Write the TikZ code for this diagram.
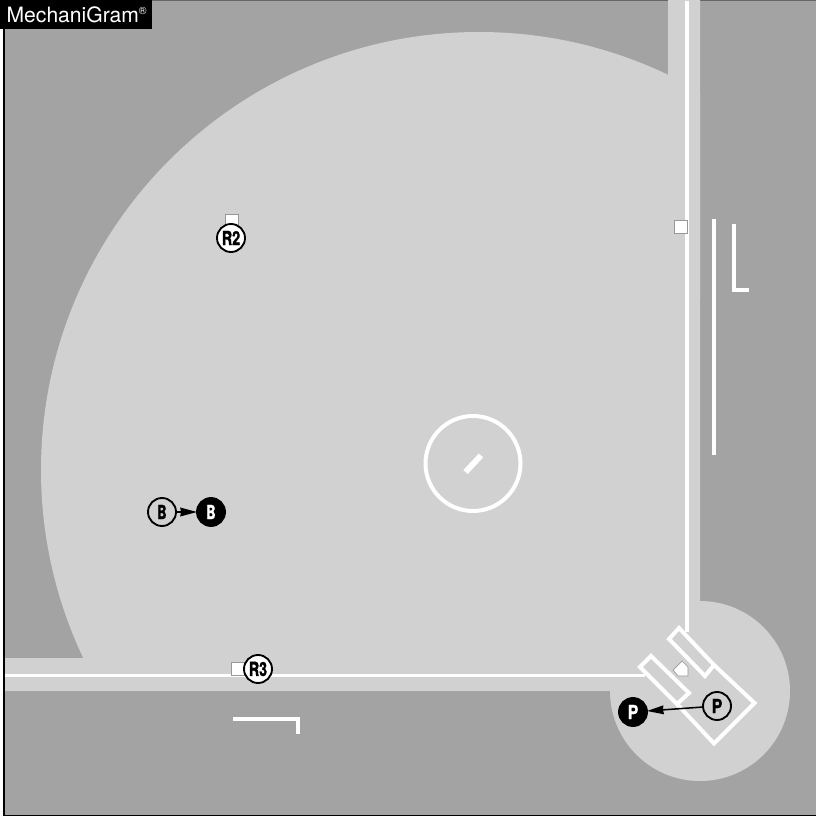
\documentclass[tikz,border=0pt]{standalone}
\usepackage{fontspec}
\setmainfont{TeX Gyre Heros}
\newfontfamily\umpfont[BoldFeatures={FakeBold=1.8}]{TeX Gyre Heros}
\usetikzlibrary{arrows.meta}
\definecolor{turfgray}{HTML}{A3A3A3}
\definecolor{dirtgray}{HTML}{D1D1D1}
\definecolor{basegray}{HTML}{989898}
\tikzset{
    whiteline/.style={draw=white, line width=3.4pt},
    fieldbase/.style={draw=basegray, fill=white, line width=1.5pt, minimum size=0.39cm, inner sep=0pt, outer sep=0pt},
    umpbase/.style={circle, draw=black, line width=1.6pt, minimum size=0.84cm, inner sep=0pt, outer sep=0pt, font=\fontsize{16.5}{16.5}\umpfont\bfseries},
    umpwhite/.style={umpbase, fill=white},
    umpopen/.style={umpbase, fill=dirtgray},
    umpblack/.style={umpbase, fill=black, text=white},
    movearrow/.style={draw=black, line width=1.3pt, -{Stealth[length=0.5cm, width=0.26cm, inset=0.6pt]}}
}
\newcommand{\narrowtxt}[2]{\scalebox{#1}[1]{#2}}
\begin{document}
\begin{tikzpicture}[x=0.03cm, y=-0.03cm]
    \useasboundingbox (0,0) rectangle (816,817);
    % grass and frame
    \fill[white] (0,0) rectangle (816,817);
    \fill[turfgray] (3,0) rectangle (816,815);
    \draw[black, line width=1.4pt] (4,0) -- (4,815.5) -- (816,815.5);
    \draw[black!60, line width=0.8pt] (4,0.5) -- (816,0.5);
    % dirt
    \begin{scope}
        \clip (5,1) rectangle (700,690.5);
        \fill[dirtgray] (479,470) circle (438);
        \fill[dirtgray] (668,-10) rectangle (710,300);
        \fill[dirtgray] (-10,658) rectangle (300,700);
    \end{scope}
    \fill[dirtgray] (700,691) circle (90);
    % foul lines
    \draw[whiteline] (687,1) -- (687,632);
    \draw[whiteline] (5,675.5) -- (645,675.5);
    % mound
    \draw[whiteline] (473,463.5) circle (47.5);
    \draw[white, line width=5pt] (465.5,472) -- (481,455.5);
    % coach boxes
    \draw[white, line width=2.6pt] (714,219) -- (714,455);
    \draw[white, line width=2.6pt] (734,224) -- (734,290) -- (749,290);
    \draw[white, line width=2.6pt] (233,719) -- (298,719) -- (298,734);
    % batter boxes
    \draw[whiteline] (679,628) -- (714,665) -- (705,676) -- (669,639) -- cycle;
    \draw[whiteline] (651,656) -- (689,693) -- (677,704) -- (640,667) -- cycle;
    \draw[whiteline] (714,665) -- (754.5,703) -- (714,743.5) -- (677,704);
    % home plate
    \draw[fill=white, draw=basegray, line width=0.6pt] (682,661) -- (688,667) -- (688,676) -- (678,676) -- (673,670) -- cycle;
    % bases
    \node[fieldbase] (firstbase) at (681,227) {};
    \node[fieldbase] (secondbase) at (232,221) {};
    \node[fieldbase] (thirdbase) at (238,669) {};
    % umpires
    \node[umpwhite] (R2) at (231,238) {\narrowtxt{0.74}{R2}};
    \node[umpwhite] (R3) at (258,669) {\narrowtxt{0.74}{R3}};
    \node[umpopen] (Bstart) at (162,512) {\narrowtxt{0.66}{B}};
    \node[umpblack] (Bend) at (211,512) {\narrowtxt{0.66}{B}};
    \node[umpopen] (Pstart) at (717,706) {\narrowtxt{0.82}{P}};
    \node[umpblack] (Pend) at (633,712) {\narrowtxt{0.82}{P}};
    \draw[movearrow] (Bstart) -- (Bend);
    \draw[movearrow] (Pstart) -- (Pend);
    % label
    \node[fill=black, text=white, anchor=north west, inner xsep=0.2cm, inner ysep=0pt, outer sep=0pt, text width=4.16cm, minimum height=0.86cm, align=left, font=\fontsize{18}{18}\selectfont] (tag) at (0,0) {MechaniGram\textsuperscript{\fontsize{9}{9}\selectfont ®}};
\end{tikzpicture}
\end{document}
